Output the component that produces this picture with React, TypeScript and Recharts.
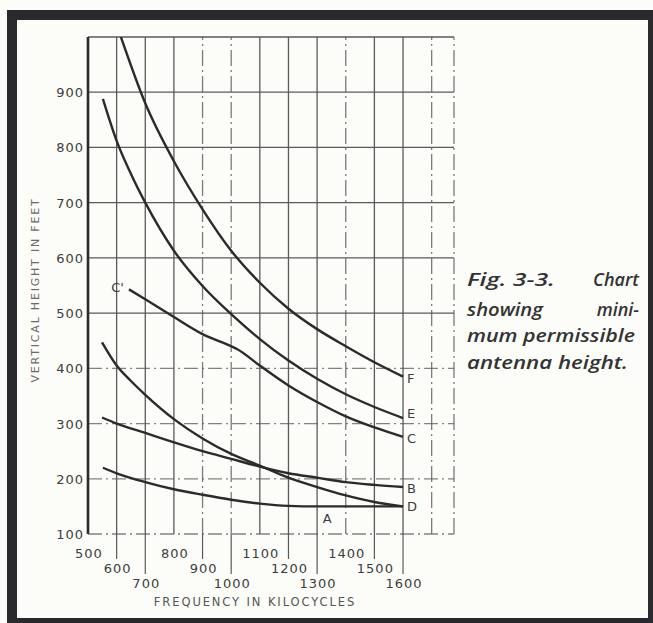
import React from 'react';
import { LineChart, Line, XAxis, YAxis, ReferenceLine, ReferenceDot } from 'recharts';

const freqTicks = [500, 600, 700, 800, 900, 1000, 1100, 1200, 1300, 1400, 1500, 1600];
const heightTicks = [100, 200, 300, 400, 500, 600, 700, 800, 900];
const solidVLines = [600, 700, 800, 1100, 1200, 1300, 1500, 1600];
const dashedVLines = [900, 1000, 1400, 1700, 1778];
const solidHLines = [500, 600, 700, 800, 900, 1000];
const dashedHLines = [100, 200, 300, 400];

const curveF = [
  { f: 615, h: 1000 }, { f: 700, h: 880 }, { f: 800, h: 775 }, { f: 900, h: 688 },
  { f: 1000, h: 613 }, { f: 1100, h: 555 }, { f: 1200, h: 508 }, { f: 1300, h: 471 },
  { f: 1400, h: 440 }, { f: 1500, h: 411 }, { f: 1600, h: 385 },
];
const curveE = [
  { f: 552, h: 888 }, { f: 600, h: 812 }, { f: 650, h: 752 }, { f: 700, h: 700 }, { f: 800, h: 613 },
  { f: 900, h: 549 }, { f: 1000, h: 498 }, { f: 1100, h: 453 }, { f: 1200, h: 414 },
  { f: 1300, h: 381 }, { f: 1400, h: 353 }, { f: 1500, h: 330 }, { f: 1600, h: 310 },
];
const curveC = [
  { f: 643, h: 543 }, { f: 700, h: 525 }, { f: 800, h: 493 }, { f: 900, h: 462 },
  { f: 1000, h: 440 }, { f: 1020, h: 435 }, { f: 1100, h: 405 }, { f: 1200, h: 369 },
  { f: 1300, h: 339 }, { f: 1400, h: 313 }, { f: 1500, h: 293 }, { f: 1600, h: 276 },
];
const curveD = [
  { f: 549, h: 447 }, { f: 600, h: 405 }, { f: 650, h: 377 }, { f: 700, h: 352 }, { f: 800, h: 308 },
  { f: 900, h: 273 }, { f: 1000, h: 245 }, { f: 1100, h: 224 }, { f: 1200, h: 202 },
  { f: 1300, h: 185 }, { f: 1400, h: 170 }, { f: 1500, h: 158 }, { f: 1600, h: 150 },
];
const curveB = [
  { f: 549, h: 311 }, { f: 600, h: 300 }, { f: 700, h: 283 }, { f: 800, h: 266 },
  { f: 900, h: 250 }, { f: 1000, h: 236 }, { f: 1100, h: 222 }, { f: 1200, h: 210 },
  { f: 1300, h: 202 }, { f: 1400, h: 194 }, { f: 1500, h: 189 }, { f: 1600, h: 185 },
];
const curveA = [
  { f: 552, h: 220 }, { f: 600, h: 210 }, { f: 700, h: 194 }, { f: 800, h: 181 },
  { f: 900, h: 171 }, { f: 1000, h: 162 }, { f: 1100, h: 155 }, { f: 1200, h: 151 },
  { f: 1300, h: 150 }, { f: 1600, h: 150 },
];

const captionLines = ['Fig. 3-3.', 'Chart', 'showing', 'mini-', 'mum permissible', 'antenna height.'];

const INK = '#2b2b2b';
const GRID = '#5a5a5a';
const TXT = '#3c3c3c';
const FONT = '"DejaVu Sans", sans-serif';

const XTick = (props: any) => {
  const { x, y, payload } = props;
  const v = payload.value as number;
  const row = Math.round((v - 500) / 100) % 3;
  const centerY = y + 19 + row * 15;
  const ext = row === 0 ? 0 : centerY - 9 - y;
  return (
    <g>
      {ext > 0 && <line x1={x} x2={x} y1={y} y2={y + ext} stroke={GRID} strokeWidth={1.2} />}
      <text x={x + 1} y={centerY + 5} textAnchor="middle" fontSize={13} fontFamily={FONT} fill={TXT} letterSpacing={1}>
        {v}
      </text>
    </g>
  );
};

const YTick = (props: any) => {
  const { x, y, payload } = props;
  return (
    <text x={x} y={y + 5} textAnchor="end" fontSize={13} fontFamily={FONT} fill={TXT} letterSpacing={1}>
      {payload.value}
    </text>
  );
};

const endLabel = (name: string, last: number, dy: number, startName?: string) => (p: any) => {
  if (p.index === last) {
    return (
      <text key={`l-${name}-${p.index}`} x={p.cx + 4} y={p.cy + dy} fontSize={13} fontFamily={FONT} fill={TXT}>
        {name}
      </text>
    );
  }
  if (startName && p.index === 0) {
    return (
      <text key={`s-${name}-${p.index}`} x={p.cx - 5} y={p.cy + 3} textAnchor="end" fontSize={13} fontFamily={FONT} fill={TXT}>
        {startName}
      </text>
    );
  }
  return <g key={`n-${name}-${p.index}`} />;
};

const lineProps = {
  type: 'monotone' as const,
  dataKey: 'h',
  stroke: INK,
  strokeWidth: 2.4,
  isAnimationActive: false,
  activeDot: false as const,
};

export default function App() {
  return (
    <div style={{ position: 'relative', width: 653, height: 623, background: '#fcfcf9', overflow: 'hidden' }}>
      <style>{`body{margin:0;overflow:hidden}`}</style>
      <LineChart width={653} height={623} margin={{ top: 37, right: 199, bottom: 29, left: 28 }}>
        <XAxis
          dataKey="f"
          type="number"
          domain={[500, 1778]}
          ticks={freqTicks}
          allowDataOverflow
          axisLine={false}
          tickLine={false}
          tickSize={0}
          tickMargin={0}
          height={60}
          interval={0}
          tick={<XTick />}
        />
        <YAxis
          dataKey="h"
          type="number"
          domain={[100, 1000]}
          ticks={heightTicks}
          allowDataOverflow
          axisLine={false}
          tickLine={false}
          tickSize={0}
          tickMargin={4}
          width={60}
          interval={0}
          tick={<YTick />}
        />
        {solidHLines.map((v) => (
          <ReferenceLine key={`hs${v}`} y={v} stroke={GRID} strokeWidth={1.3} />
        ))}
        {dashedHLines.map((v) => (
          <ReferenceLine key={`hd${v}`} y={v} stroke={GRID} strokeWidth={1.3} strokeDasharray="14 4 2 4" strokeOpacity={0.75} />
        ))}
        {solidVLines.map((v) => (
          <ReferenceLine key={`vs${v}`} x={v} stroke={GRID} strokeWidth={1.3} />
        ))}
        {dashedVLines.map((v) => (
          <ReferenceLine key={`vd${v}`} x={v} stroke={GRID} strokeWidth={1.3} strokeDasharray="16 4 2 4" strokeOpacity={0.8} />
        ))}
        <ReferenceLine x={500} stroke={INK} strokeWidth={2.6} />
        <Line data={curveF} {...lineProps} dot={endLabel('F', curveF.length - 1, 6)} />
        <Line data={curveE} {...lineProps} dot={endLabel('E', curveE.length - 1, 0)} />
        <Line data={curveC} {...lineProps} dot={endLabel('C', curveC.length - 1, 6, "C'")} />
        <Line data={curveB} {...lineProps} dot={endLabel('B', curveB.length - 1, 6)} />
        <Line data={curveD} {...lineProps} dot={endLabel('D', curveD.length - 1, 5)} />
        <Line data={curveA} {...lineProps} dot={false} />
        <ReferenceDot
          x={1335}
          y={150}
          r={0}
          shape={(p: any) => (
            <text x={p.cx} y={p.cy + 17} textAnchor="middle" fontSize={13} fontFamily={FONT} fill={TXT}>
              A
            </text>
          )}
        />
        <text x={35} y={290} transform="rotate(-90 35 290)" textAnchor="middle" dominantBaseline="central" fontSize={11} fontFamily={FONT} fill="#6a6a6a" letterSpacing={1.8}>
          VERTICAL HEIGHT IN FEET
        </text>
        <text x={255} y={606} textAnchor="middle" fontSize={11.5} fontFamily={FONT} fill="#555" letterSpacing={1.9}>
          FREQUENCY IN KILOCYCLES
        </text>
      </LineChart>
      <svg width={653} height={623} style={{ position: 'absolute', left: 0, top: 0, pointerEvents: 'none' }}>
        <rect x={7} y={10} width={646} height={10} fill="#2a2a2e" />
        <rect x={7} y={10} width={10} height={613} fill="#2a2a2e" />
        <rect x={7} y={618} width={646} height={5} fill="#2a2a2e" />
        <rect x={648} y={10} width={5} height={613} fill="#2a2a2e" />
        <g fontFamily='"Open Sans", sans-serif' fontStyle="italic" fontWeight={600} fontSize={18} fill="#333">
          <text x={467} y={286} textLength={88} lengthAdjust="spacingAndGlyphs">{captionLines[0]}</text>
          <text x={639} y={286} textAnchor="end">{captionLines[1]}</text>
          <text x={467} y={316} textLength={76} lengthAdjust="spacingAndGlyphs">{captionLines[2]}</text>
          <text x={639} y={316} textAnchor="end">{captionLines[3]}</text>
          <text x={467} y={342} textLength={168} lengthAdjust="spacingAndGlyphs">{captionLines[4]}</text>
          <text x={467} y={369} textLength={161} lengthAdjust="spacingAndGlyphs">{captionLines[5]}</text>
        </g>
      </svg>
    </div>
  );
}
